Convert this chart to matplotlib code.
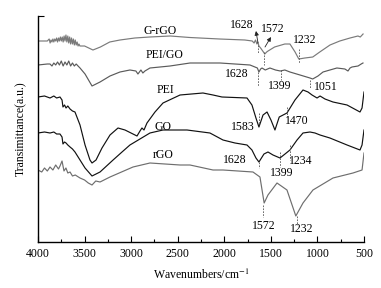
import matplotlib
matplotlib.use("Agg")
import matplotlib.pyplot as plt

plt.rcParams['font.family'] = ['Liberation Serif', 'DejaVu Serif']
plt.rcParams['mathtext.fontset'] = 'stix'

# ---- data (wavenumber cm^-1, transmittance a.u. with offsets) ----
grgo_wn = [4000, 3930, 3900, 3880, 3870, 3860, 3850, 3840, 3830, 3820, 3810, 3800, 3790, 3780,
           3770, 3760, 3750, 3740, 3730, 3720, 3710, 3700, 3690, 3680, 3670, 3660, 3650, 3640,
           3630, 3620, 3610, 3600, 3590, 3580, 3570, 3560, 3550, 3500, 3410, 3330, 3230, 3120,
           2960, 2800, 2580, 2370, 2050, 1780, 1700, 1680, 1665, 1650, 1640, 1628, 1610, 1595,
           1580, 1565, 1545, 1530, 1460, 1350, 1295, 1240, 1200, 1135, 1050, 975, 865, 760, 650,
           565, 540, 520, 510]
grgo_t = [201, 201, 201, 203, 199, 202, 200, 203, 200, 203, 201, 204, 200, 204,
          201, 205, 201, 205, 200, 206, 201, 207, 200, 206, 199, 205, 198, 204,
          198, 203, 197, 202, 197, 200, 196, 198, 196, 196, 192, 195, 200, 202,
          204, 205, 206, 204.5, 203, 202, 201, 199, 202, 198, 200, 196, 194, 192,
          190, 188, 190, 191, 195, 198, 198, 190, 183, 184, 185, 190, 197, 201, 204,
          206, 205, 207, 208]

pego_wn = [4000, 3900, 3871, 3850, 3830, 3810, 3790, 3770, 3750, 3730, 3710, 3690, 3670, 3650,
           3630, 3610, 3590, 3570, 3549, 3495, 3420, 3334, 3227, 3120, 3013, 2949, 2927, 2895,
           2874, 2852, 2798, 2583, 2368, 2046, 1724, 1671, 1645, 1628, 1610, 1595, 1560, 1510,
           1450, 1399, 1350, 1295, 1187, 1080, 1051, 994, 940, 866, 791, 705, 672, 650, 629,
           564, 530, 511]
pego_t = [177, 178, 178, 176, 179, 177, 180, 177, 181, 176, 180, 177, 181, 176,
          179, 176, 178, 176, 174, 168, 156, 160, 166, 170, 172, 171, 168, 172,
          169, 171, 174, 176, 179, 179, 177, 175, 174, 170, 173, 174, 172, 174,
          172, 171, 172, 170, 167, 164, 163, 166, 170, 172, 174, 173, 171, 174, 175,
          176, 178, 179]

pei_wn = [4000, 3930, 3871, 3830, 3800, 3764, 3742, 3732, 3715, 3699, 3680, 3656, 3630, 3603,
          3549, 3495, 3442, 3420, 3377, 3313, 3227, 3141, 3066, 2937, 2905, 2884, 2862, 2830,
          2744, 2658, 2475, 2229, 2121, 2025, 1756, 1703, 1660, 1628, 1584, 1541, 1499, 1456,
          1410, 1327, 1241, 1155, 1101, 1058, 1004, 972, 919, 833, 682, 543, 521, 500]
pei_t = [145, 146, 144, 146, 144, 145, 142, 135, 137, 134, 136, 133, 131, 130,
         117, 97, 82, 79, 82, 94, 107, 114, 112, 106, 111, 114, 112, 119,
         130, 139, 147, 149, 147, 145, 144, 137, 124, 115, 127, 130, 122, 112,
         125, 129, 142, 152, 150, 147, 144, 146, 143, 140, 137, 130, 134, 150]

go_wn = [4000, 3930, 3871, 3830, 3800, 3764, 3742, 3732, 3715, 3699, 3680, 3656, 3630, 3603,
         3549, 3495, 3420, 3334, 3194, 3098, 3013, 2798, 2658, 2400, 2154, 2014, 1885, 1756,
         1703, 1660, 1628, 1574, 1531, 1477, 1402, 1348, 1295, 1219, 1155, 1080, 1026, 972,
         866, 682, 543, 521, 500]
go_t = [109, 110, 109, 110, 108, 108, 105, 98, 100, 99, 97, 95, 93, 90,
        82, 74, 66, 70, 82, 90, 97, 109, 112, 112, 109, 102, 99, 97,
        92, 84, 80, 88, 90, 87, 84, 88, 92, 102, 109, 110, 109, 107,
        104, 97, 92, 97, 112]

rgo_wn = [4000, 3960, 3930, 3900, 3871, 3840, 3810, 3780, 3764, 3742, 3721, 3700, 3680, 3656,
          3630, 3600, 3549, 3500, 3460, 3420, 3380, 3334, 3227, 2980, 2798, 2475, 2368, 2121,
          2014, 1692, 1617, 1572, 1531, 1434, 1327, 1232, 1155, 1048, 833, 618, 521, 500]
rgo_t = [72, 70, 74, 71, 75, 72, 77, 73, 76, 81, 71, 74, 69, 70,
         66, 67, 64, 62, 59, 57, 61, 60, 65, 75, 79, 77, 77, 72,
         72, 70, 65, 39, 47, 59, 52, 26, 39, 52, 64, 69, 72, 89]

series_names = ["G-rGO", "PEI/GO", "PEI", "GO", "rGO"]
series_colors = ["#7a7a7a", "#5a5a5a", "#111111", "#111111", "#6e6e6e"]
name_pos = [(2690, 211), (2636, 187), (2636, 152), (2658, 115), (2658, 87)]

# peak labels: (text, x, y)
peak_labels = [("1628", 1810, 217), ("1572", 1477, 213), ("1232", 1134, 202),
               ("1628", 1864, 168), ("1399", 1402, 156), ("1051", 908, 155),
               ("1583", 1799, 115), ("1470", 1219, 121),
               ("1628", 1885, 82), ("1399", 1380, 69), ("1234", 1176, 81),
               ("1572", 1574, 16), ("1232", 1166, 13)]
# dashed markers: (x, y0, y1)
peak_lines = [(1638, 197, 189), (1572, 190, 177), (1200, 193, 179),
              (1638, 170, 156), (1391, 172, 162), (1080, 162, 154),
              (1628, 129, 117), (1325, 135, 125),
              (1628, 80, 74), (1402, 90, 75), (1295, 97, 82),
              (1584, 37, 25), (1219, 26, 17)]
# arrows (tail -> head)
arrows = [((1638, 199), (1660, 211)), ((1563, 195), (1499, 205))]

fig = plt.figure(figsize=(3.81, 2.88), dpi=100)
ax = fig.add_axes([38/381, 46/288, 326/381, 226/288])

data = [(grgo_wn, grgo_t), (pego_wn, pego_t), (pei_wn, pei_t), (go_wn, go_t), (rgo_wn, rgo_t)]
for (wn, t), c, name, pos in zip(data, series_colors, series_names, name_pos):
    ax.plot(wn, t, color=c, lw=0.85)
    ax.text(pos[0], pos[1], name, fontsize=8.5, ha='center', va='center')

for txt, x, y in peak_labels:
    ax.text(x, y, txt, fontsize=8.5, ha='center', va='center')
for x, y0, y1 in peak_lines:
    ax.plot([x, x], [y0, y1], color='#555555', lw=0.6, ls=(0, (2, 1.5)))
for (tx, ty), (hx, hy) in arrows:
    ax.annotate('', xy=(hx, hy), xytext=(tx, ty),
                arrowprops=dict(arrowstyle='-|>', color='#222222', lw=0.6,
                                mutation_scale=6, shrinkA=0, shrinkB=0))

ax.set_xlim(4000, 500)
ax.set_ylim(0, 226)
ax.spines['top'].set_visible(False)
ax.spines['right'].set_visible(False)
for s in ('left', 'bottom'):
    ax.spines[s].set_linewidth(1.0)
ax.set_xticks([4000, 3500, 3000, 2500, 2000, 1500, 1000, 500])
ax.set_xticks([3750, 3250, 2750, 2250, 1750, 1250, 750], minor=True)
ax.tick_params(axis='x', which='major', direction='in', length=4, width=0.8, labelsize=8.5, pad=4)
ax.tick_params(axis='x', which='minor', direction='in', length=2.5, width=0.8)
ax.set_yticks([226])
ax.set_yticklabels([])
ax.tick_params(axis='y', which='major', direction='in', length=4, width=0.8)

ax.set_xlabel("Wavenumbers/cm$^{-1}$", fontsize=8.5, labelpad=6)
ax.set_ylabel("Transimittance(a.u.)", fontsize=8.5, labelpad=4)

fig.savefig("out.png", dpi=100)
